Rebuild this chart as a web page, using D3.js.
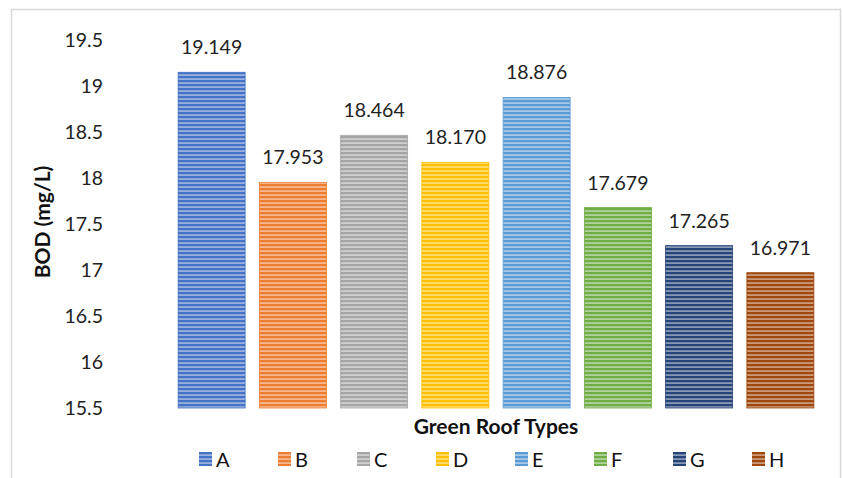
<!DOCTYPE html>
<html>
<head>
<meta charset="utf-8">
<script src="https://cdn.jsdelivr.net/npm/d3@7"></script>
<style>
  html, body { margin: 0; padding: 0; background: #fff; }
  svg { display: block; font-family: Lato, "Open Sans", sans-serif; }
</style>
</head>
<body>
<svg id="chart" width="842" height="478"></svg>
<script>
// Green roof types and measured BOD (mg/L)
const categories = ["A", "B", "C", "D", "E", "F", "G", "H"];
const bodValues = [19.149, 17.953, 18.464, 18.170, 18.876, 17.679, 17.265, 16.971];
const yTicks = [15.5, 16, 16.5, 17, 17.5, 18, 18.5, 19, 19.5];
const barColors = ["#4472C4", "#ED7D31", "#A5A5A5", "#FFC000", "#5B9BD5", "#70AD47", "#264478", "#9E480E"];

const svg = d3.select("#chart");
const W = 842, H = 478;
const margin = { left: 171, right: 21, top: 40, bottom: 70 };

// frame
svg.append("path")
  .attr("d", `M11.5,${H} V9.5 H840.5 V${H}`)
  .attr("fill", "none")
  .attr("stroke", "#d9d9d9")
  .attr("stroke-width", 1.5);

const x = d3.scaleBand()
  .domain(categories)
  .range([margin.left, W - margin.right])
  .paddingInner(0.175)
  .paddingOuter(0.0875);

const y = d3.scaleLinear()
  .domain([15.5, 19.5])
  .range([H - margin.bottom, margin.top]);

const color = d3.scaleOrdinal().domain(categories).range(barColors);

// horizontal stripe fills
const defs = svg.append("defs");
categories.forEach((c, i) => {
  const base = d3.color(barColors[i]);
  const light = d3.interpolateRgb(barColors[i], "#ffffff")(0.45);
  const p = defs.append("pattern")
    .attr("id", "stripe-" + c)
    .attr("patternUnits", "userSpaceOnUse")
    .attr("width", 8)
    .attr("height", 4);
  p.append("rect").attr("width", 8).attr("height", 4).attr("fill", light);
  p.append("rect").attr("width", 8).attr("height", 2.2).attr("fill", base.formatHex());
});

// y axis labels (no axis line)
const yAxis = d3.axisLeft(y).tickValues(yTicks).tickSize(0).tickPadding(0)
  .tickFormat(d => d3.format("")(d));
const gy = svg.append("g").attr("transform", "translate(103,0)").call(yAxis);
gy.select(".domain").remove();
gy.selectAll("text")
  .attr("font-family", "Lato, 'Open Sans', sans-serif")
  .attr("font-size", 19.5)
  .attr("fill", "#222")
  .attr("dy", "0.35em");

// bars
svg.append("g").selectAll("rect")
  .data(categories.map((c, i) => ({ c, v: bodValues[i] })))
  .join("rect")
  .attr("x", d => x(d.c))
  .attr("y", d => y(d.v))
  .attr("width", x.bandwidth())
  .attr("height", d => y(15.5) - y(d.v))
  .attr("fill", d => `url(#stripe-${d.c})`)
  .attr("stroke", d => color(d.c))
  .attr("stroke-width", 0.8);

// value labels
svg.append("g").selectAll("text")
  .data(categories.map((c, i) => ({ c, v: bodValues[i] })))
  .join("text")
  .attr("x", d => x(d.c) + x.bandwidth() / 2)
  .attr("y", d => y(d.v) - 18)
  .attr("text-anchor", "middle")
  .attr("font-size", 19.5)
  .attr("fill", "#222")
  .text(d => d3.format(".3f")(d.v));

// axis titles
svg.append("text")
  .attr("x", (margin.left + W - margin.right) / 2)
  .attr("y", 434)
  .attr("text-anchor", "middle")
  .attr("font-size", 21)
  .attr("font-weight", "bold")
  .attr("fill", "#111")
  .text("Green Roof Types");

svg.append("text")
  .attr("transform", "translate(50,222) rotate(-90)")
  .attr("text-anchor", "middle")
  .attr("font-size", 21)
  .attr("font-weight", "bold")
  .attr("fill", "#111")
  .text("BOD (mg/L)");

// legend
const legend = svg.append("g").selectAll("g")
  .data(categories)
  .join("g")
  .attr("transform", (d, i) => `translate(${199 + i * 79},452)`);
legend.append("rect")
  .attr("width", 13).attr("height", 14)
  .attr("fill", d => `url(#stripe-${d})`);
legend.append("text")
  .attr("x", 17).attr("y", 15)
  .attr("font-size", 20)
  .attr("fill", "#111")
  .text(d => d);
</script>
</body>
</html>
